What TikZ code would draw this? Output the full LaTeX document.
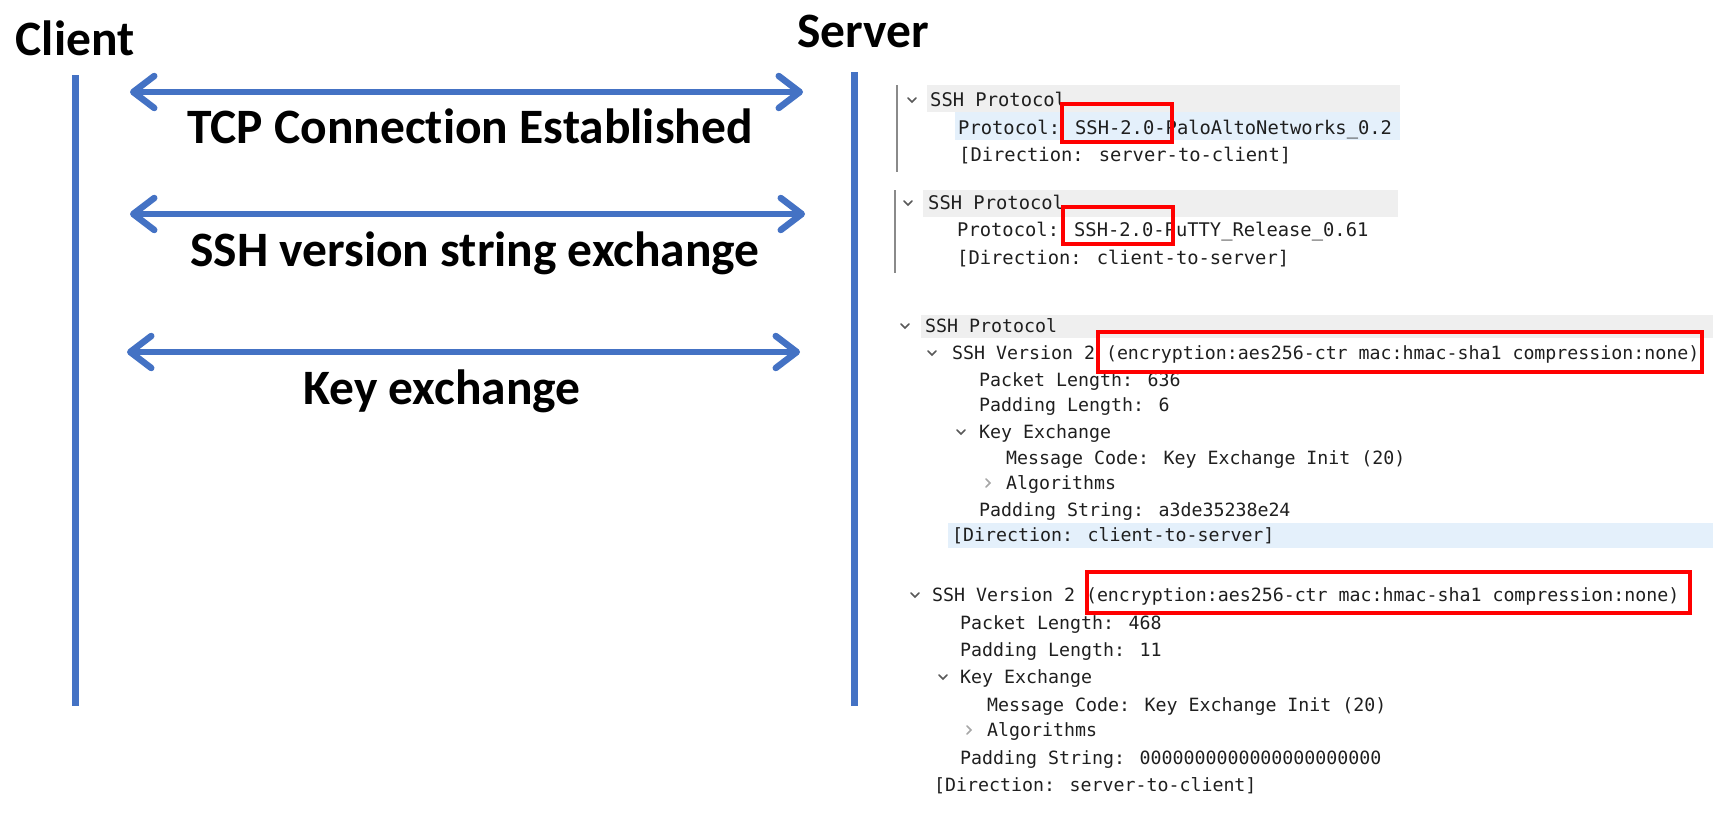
\documentclass[tikz,border=0pt]{standalone}
\usepackage{fontspec}
\setmainfont{Carlito}[Ligatures=NoCommon]
\newfontfamily\capfont{DejaVu Sans Mono}
\usetikzlibrary{arrows.meta}

\definecolor{seqblue}{HTML}{4472C4}
\definecolor{rowgray}{HTML}{EFEFEF}
\definecolor{rowblue}{HTML}{E4F0FB}
\definecolor{treegray}{HTML}{8A8A8A}

\tikzset{
  heading/.style={inner sep=0pt, text height=31.5pt, text depth=0pt,
    font=\fontsize{49.5}{50}\selectfont\bfseries},
  pkt/.style={anchor=west, inner sep=0pt, text height=13.7pt, text depth=0pt,
    text=black!88, font=\capfont\fontsize{18.8}{20}\selectfont},
  pktb/.style={pkt, text height=13.3pt, font=\capfont\fontsize{18.25}{20}\selectfont},
  lifeline/.style={draw=seqblue, line width=7pt},
  msg/.style={draw=seqblue, line width=6.5pt,
    {Straight Barb[length=21pt,width=32pt,round]}-{Straight Barb[length=21pt,width=32pt,round]}},
  redbox/.style={draw=red, line width=4.5pt},
  treeline/.style={draw=treegray, line width=2pt},
  chevdown/.pic={\draw[black!65, line width=1.5pt, line cap=round]
    (-4,-2) -- (0,2) -- (4,-2);},
  chevright/.pic={\draw[black!35, line width=1.5pt, line cap=round]
    (-2,-4) -- (2,0) -- (-2,4);}
}

\begin{document}
\begin{tikzpicture}[x=1pt, y=-1pt]
    \useasboundingbox (0,0) rectangle (1722,812);

    % client / server
    \node[heading] (client) at (75,40) {Client};
    \node[heading] (server) at (863,32) {Server};
    \coordinate (ctop) at (75,75);
    \coordinate (cbot) at (75,706);
    \coordinate (stop) at (854,72);
    \coordinate (sbot) at (854,706);
    \draw[lifeline] (ctop) -- (cbot);
    \draw[lifeline] (stop) -- (sbot);

    % messages
    \coordinate (c1) at (75,92);   \coordinate (s1) at (854,92);
    \coordinate (c2) at (75,214);  \coordinate (s2) at (854,214);
    \coordinate (c3) at (75,352);  \coordinate (s3) at (854,352);
    \draw[msg, shorten <=55pt, shorten >=51pt] (c1) -- (s1);
    \draw[msg, shorten <=55pt, shorten >=49pt] (c2) -- (s2);
    \draw[msg, shorten <=52pt, shorten >=54pt] (c3) -- (s3);
    \node[heading] (tcp) at (470,128) {TCP Connection Established};
    \node[heading] (sshver) at (475,251) {SSH version string exchange};
    \node[heading] (kex) at (442,389) {Key exchange};

    % packet details, server-to-client version string
    \fill[rowgray] (927,85) rectangle (1400,112);
    \fill[rowblue] (955,112) rectangle (1400,140);
    \draw[treeline] (897,85) -- (897,172);
    \pic at (912,100) {chevdown};
    \node[pkt] (p1a) at (930,100) {SSH Protocol};
    \node[pkt] (p1b) at (958,128) {Protocol: SSH-2.0-PaloAltoNetworks\_0.2};
    \node[pkt] (p1c) at (959,155) {[Direction: server-to-client]};
    \draw[redbox] (1062,104) rectangle (1172,142);

    % client-to-server version string
    \fill[rowgray] (923,190) rectangle (1398,217);
    \draw[treeline] (895,190) -- (895,273);
    \pic at (908,203) {chevdown};
    \node[pkt] (p2a) at (928,203) {SSH Protocol};
    \node[pkt] (p2b) at (957,230) {Protocol: SSH-2.0-PuTTY\_Release\_0.61};
    \node[pkt] (p2c) at (957,258) {[Direction: client-to-server]};
    \draw[redbox] (1063,207) rectangle (1173,244);

    % client key exchange init
    \fill[rowgray] (921,315) rectangle (1713,338);
    \fill[rowblue] (948,523) rectangle (1713,548);
    \pic at (905,326) {chevdown};
    \node[pktb] (p3a) at (925,326) {SSH Protocol};
    \pic at (932,353) {chevdown};
    \node[pktb] (p3b) at (952,353) {SSH Version 2 (encryption:aes256-ctr mac:hmac-sha1 compression:none)};
    \node[pktb] (p3c) at (979,380) {Packet Length: 636};
    \node[pktb] (p3d) at (979,405) {Padding Length: 6};
    \pic at (961,432) {chevdown};
    \node[pktb] (p3e) at (979,432) {Key Exchange};
    \node[pktb] (p3f) at (1006,458) {Message Code: Key Exchange Init (20)};
    \pic at (988,483) {chevright};
    \node[pktb] (p3g) at (1006,483) {Algorithms};
    \node[pktb] (p3h) at (979,510) {Padding String: a3de35238e24};
    \node[pktb] (p3i) at (952,535) {[Direction: client-to-server]};
    \draw[redbox] (1098,332) rectangle (1702,372);

    % server key exchange init
    \pic at (915,595) {chevdown};
    \node[pktb] (p4a) at (932,595) {SSH Version 2 (encryption:aes256-ctr mac:hmac-sha1 compression:none)};
    \node[pktb] (p4b) at (960,623) {Packet Length: 468};
    \node[pktb] (p4c) at (960,650) {Padding Length: 11};
    \pic at (943,677) {chevdown};
    \node[pktb] (p4d) at (960,677) {Key Exchange};
    \node[pktb] (p4e) at (987,705) {Message Code: Key Exchange Init (20)};
    \pic at (969,730) {chevright};
    \node[pktb] (p4f) at (987,730) {Algorithms};
    \node[pktb] (p4g) at (960,758) {Padding String: 0000000000000000000000};
    \node[pktb] (p4h) at (934,785) {[Direction: server-to-client]};
    \draw[redbox] (1087,572) rectangle (1690,613);

\end{tikzpicture}
\end{document}
